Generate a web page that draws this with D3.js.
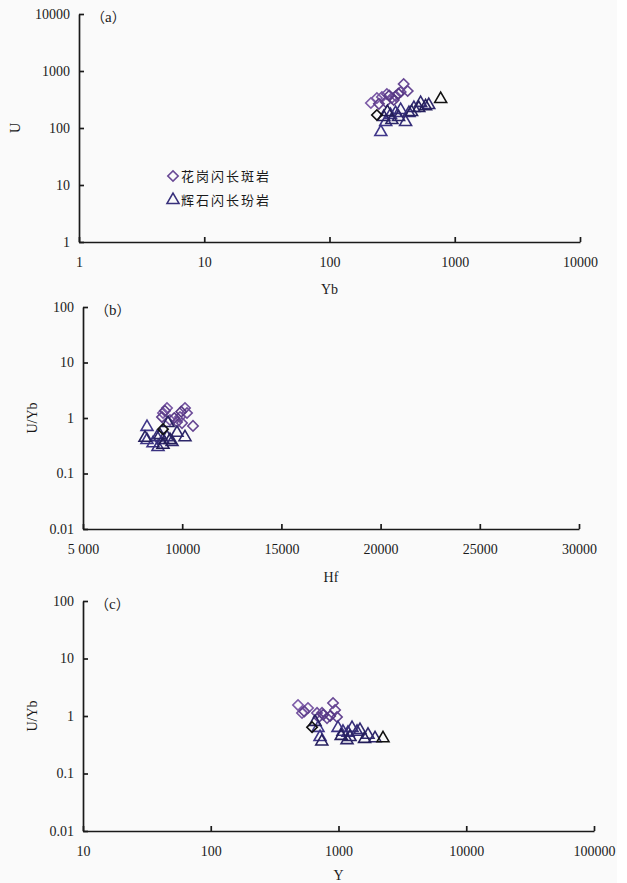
<!DOCTYPE html>
<html>
<head>
<meta charset="utf-8">
<script src="https://cdn.jsdelivr.net/npm/d3@7.9.0/dist/d3.min.js"></script>
<style>
  html, body { margin: 0; padding: 0; background: #fafafa; }
  svg { display: block; }
  text { font-family: "Liberation Serif", "Times New Roman", serif; fill: #1a1a1a; }
  .cjk { font-family: "Noto Sans CJK SC", sans-serif; }
</style>
</head>
<body>
<svg id="chart" width="627" height="883"></svg>
<script>
// legend names
const seriesNames = ['花岗闪长斑岩', '辉石闪长玢岩'];

// (a) U vs Yb
const aDioYb = [214, 239, 262, 287, 314, 338, 370, 391, 421, 281, 248, 326, 300, 355];
const aDioU = [275, 336, 350, 395, 336, 364, 428, 591, 446, 286, 265, 310, 370, 400];
const aPorYb = [257, 281, 307, 337, 370, 405, 431, 472, 534, 620, 356, 315, 271, 452, 516, 585, 290];
const aPorU = [85, 127, 169, 183, 207, 127, 183, 224, 275, 253, 156, 138, 156, 191, 224, 240, 190];
const aBlackDioYb = [239];
const aBlackDioU = [169];
const aBlackPorYb = [772];
const aBlackPorU = [323];

// (b) U/Yb vs Hf
const bDioHf = [9032, 9234, 9385, 9889, 10141, 10242, 9990, 10544, 9738, 8982, 9130, 9600, 9950];
const bDioRatio = [1.23, 1.51, 0.92, 1.04, 1.51, 1.23, 0.81, 0.72, 0.85, 1.04, 1.35, 1.0, 1.3];
const bPorHf = [8226, 8226, 8528, 8780, 8730, 9032, 9234, 9486, 9738, 10141, 8880, 9284, 8125, 9385, 9032];
const bPorRatio = [0.69, 0.40, 0.35, 0.30, 0.45, 0.40, 0.45, 0.37, 0.54, 0.45, 0.49, 0.81, 0.44, 0.40, 0.33];
const bBlackDioHf = [9032];
const bBlackDioRatio = [0.63];

// (c) U/Yb vs Y
const cDioY = [482, 577, 518, 679, 743, 813, 906, 940, 973, 540, 700, 760, 860];
const cDioRatio = [1.55, 1.38, 1.13, 1.13, 1.13, 0.92, 1.68, 1.27, 0.96, 1.2, 0.95, 1.05, 1.0];
const cPorY = [691, 717, 991, 1084, 1187, 1276, 1397, 1473, 1702, 1932, 1166, 1231, 655, 740, 1050, 1600];
const cPorRatio = [0.62, 0.43, 0.62, 0.53, 0.51, 0.62, 0.53, 0.57, 0.47, 0.41, 0.38, 0.43, 0.79, 0.36, 0.45, 0.40];
const cBlackDioY = [621];
const cBlackDioRatio = [0.64];
const cBlackPorY = [2230];
const cBlackPorRatio = [0.41];

// ticks
const aXTicks = [1, 10, 100, 1000, 10000];
const aYTicks = [1, 10, 100, 1000, 10000];
const bXTicks = [5000, 10000, 15000, 20000, 25000, 30000];
const bXTickLabels = ['5 000', '10000', '15000', '20000', '25000', '30000'];
const ratioTicks = [0.01, 0.1, 1, 10, 100];
const cXTicks = [10, 100, 1000, 10000, 100000];

const svg = d3.select('#chart');
svg.append('rect').attr('x', 617).attr('y', 0).attr('width', 10).attr('height', 883).attr('fill', '#fff');

const dioColor = d3.interpolateLab('#7d5ca8', '#573884');
const porColor = d3.interpolateLab('#40378a', '#221d58');
const diamond = d3.symbol(d3.symbolSquare, 54);
const triangle = d3.symbol(d3.symbolTriangle, 62);

function zip(xs, ys) {
  return xs.map((x, i) => ({ x, y: ys[i] }));
}

function drawPanel(p) {
  const x = p.xLog ? d3.scaleLog() : d3.scaleLinear();
  x.domain(p.xDomain).range([p.left, p.right]);
  const y = d3.scaleLog().domain(p.yDomain).range([p.bottom, p.top]);

  const g = svg.append('g');

  const xAxis = d3.axisBottom(x)
    .tickValues(p.xTicks)
    .tickSizeInner(-5)
    .tickSizeOuter(0)
    .tickPadding(15)
    .tickFormat((d, i) => (p.xTickLabels ? p.xTickLabels[i] : d));
  const yAxis = d3.axisLeft(y)
    .tickValues(p.yTicks)
    .tickSizeInner(-5)
    .tickSizeOuter(0)
    .tickPadding(9)
    .tickFormat((d) => d);

  const gx = g.append('g').attr('transform', `translate(0,${p.bottom})`).call(xAxis);
  const gy = g.append('g').attr('transform', `translate(${p.left},0)`).call(yAxis);
  [gx, gy].forEach((ax) => {
    ax.attr('font-family', null).attr('font-size', null);
    ax.select('.domain').attr('stroke', '#1a1a1a').attr('stroke-width', 1.7);
    ax.selectAll('.tick line').attr('stroke', '#1a1a1a').attr('stroke-width', 1.7);
    ax.selectAll('.tick text')
      .attr('font-size', 14)
      .attr('fill', '#1a1a1a');
  });

  g.append('text')
    .attr('x', (p.left + p.right) / 2)
    .attr('y', p.bottom + p.xLabelDy)
    .attr('text-anchor', 'middle')
    .attr('font-size', 14)
    .text(p.xLabel);

  g.append('text')
    .attr('transform', `translate(${p.yLabelX},${(p.top + p.bottom) / 2}) rotate(-90)`)
    .attr('text-anchor', 'middle')
    .attr('font-size', 14)
    .text(p.yLabel);

  // panel tag: fullwidth brackets round a serif letter
  const tag = g.append('text')
    .attr('x', p.left + 12)
    .attr('y', p.top + 8)
    .attr('font-size', 14);
  tag.append('tspan').attr('class', 'cjk').text('（');
  tag.append('tspan').attr('font-size', 15).text(p.title);
  tag.append('tspan').attr('class', 'cjk').text('）');

  const drawSet = (pts, shape, colorFn) => {
    g.append('g')
      .selectAll('path')
      .data(pts)
      .join('path')
      .attr('d', shape)
      .attr('transform', (d) => `translate(${x(d.x)},${y(d.y)})` + (shape === diamond ? ' rotate(45)' : ''))
      .attr('fill', 'none')
      .attr('stroke', (d, i) => colorFn(pts.length > 1 ? i / (pts.length - 1) : 0))
      .attr('stroke-width', 1.6);
  };

  drawSet(p.dio, diamond, dioColor);
  drawSet(p.por, triangle, porColor);
  if (p.blackDio) drawSet(p.blackDio, diamond, () => '#111');
  if (p.blackPor) drawSet(p.blackPor, triangle, () => '#111');
}

drawPanel({
  left: 79, right: 580, top: 14, bottom: 242,
  xLog: true, xDomain: [1, 10000], yDomain: [1, 10000],
  xTicks: aXTicks, yTicks: aYTicks,
  xLabel: 'Yb', xLabelDy: 52, yLabel: 'U', yLabelX: 20, title: 'a',
  dio: zip(aDioYb, aDioU), por: zip(aPorYb, aPorU),
  blackDio: zip(aBlackDioYb, aBlackDioU), blackPor: zip(aBlackPorYb, aBlackPorU),
});

drawPanel({
  left: 83, right: 579, top: 307, bottom: 529,
  xLog: false, xDomain: [5000, 30000], yDomain: [0.01, 100],
  xTicks: bXTicks, xTickLabels: bXTickLabels, yTicks: ratioTicks,
  xLabel: 'Hf', xLabelDy: 53, yLabel: 'U/Yb', yLabelX: 37, title: 'b',
  dio: zip(bDioHf, bDioRatio), por: zip(bPorHf, bPorRatio),
  blackDio: zip(bBlackDioHf, bBlackDioRatio),
});

drawPanel({
  left: 83, right: 594, top: 601, bottom: 831,
  xLog: true, xDomain: [10, 100000], yDomain: [0.01, 100],
  xTicks: cXTicks, yTicks: ratioTicks,
  xLabel: 'Y', xLabelDy: 49, yLabel: 'U/Yb', yLabelX: 37, title: 'c',
  dio: zip(cDioY, cDioRatio), por: zip(cPorY, cPorRatio),
  blackDio: zip(cBlackDioY, cBlackDioRatio), blackPor: zip(cBlackPorY, cBlackPorRatio),
});

// legend in panel (a)
const legendItems = [
  { name: seriesNames[0], shape: diamond, color: dioColor(0.5), rot: ' rotate(45)' },
  { name: seriesNames[1], shape: triangle, color: porColor(0.3), rot: '' },
];
const legend = svg.append('g');
legendItems.forEach((item, i) => {
  const cy = 176 + i * 24;
  legend.append('path')
    .attr('d', item.shape)
    .attr('transform', `translate(173,${cy})` + item.rot)
    .attr('fill', 'none')
    .attr('stroke', item.color)
    .attr('stroke-width', 1.6);
  legend.append('text')
    .attr('class', 'cjk')
    .attr('x', 181)
    .attr('y', cy + 5)
    .attr('font-size', 13)
    .attr('letter-spacing', 2)
    .attr('fill', '#333')
    .text(item.name);
});
</script>
</body>
</html>
